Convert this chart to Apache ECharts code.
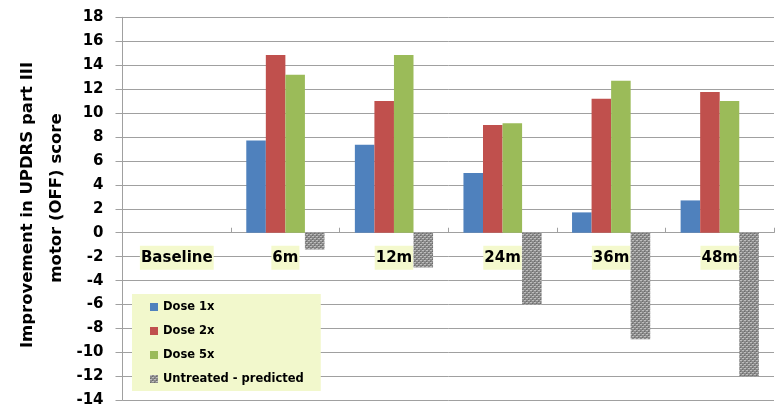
<!DOCTYPE html>
<html>
<head>
<meta charset="utf-8">
<script src="https://cdn.jsdelivr.net/npm/echarts@6/dist/echarts.min.js"></script>
<style>
  html, body { margin: 0; padding: 0; background: #ffffff; }
  #chart { width: 778px; height: 407px; }
</style>
</head>
<body>
<div id="chart"></div>
<script>
// Time points after treatment
const categories = ['Baseline', '6m', '12m', '24m', '36m', '48m'];

// Improvement in UPDRS part III motor (OFF) score per group
const dose1x = [null, 7.7, 7.35, 5.0, 1.7, 2.7];
const dose2x = [null, 14.85, 11.0, 9.0, 11.2, 11.75];
const dose5x = [null, 13.2, 14.85, 9.15, 12.7, 11.0];
const untreatedPredicted = [null, -1.4, -2.9, -6.0, -8.9, -12.0];

const seriesNames = ['Dose 1x', 'Dose 2x', 'Dose 5x', 'Untreated - predicted'];

// Value range of the score axis
const yMin = -14, yMax = 18, yStep = 2;

// Small speckled fill for the predicted (untreated) bars
function speckle() {
  const c = document.createElement('canvas');
  c.width = 4; c.height = 4;
  const ctx = c.getContext('2d');
  ctx.fillStyle = '#8a8a8a';
  ctx.fillRect(0, 0, 4, 4);
  ctx.fillStyle = '#bdbdbd';
  ctx.fillRect(0, 0, 2, 1);
  ctx.fillRect(2, 2, 2, 1);
  ctx.fillStyle = '#6c6c6c';
  ctx.fillRect(2, 1, 1, 1);
  ctx.fillRect(0, 3, 1, 1);
  return c;
}
const speckleFill = { image: speckle(), repeat: 'repeat' };

const boldFont = 'DejaVu Sans';
const el = document.getElementById('chart');
const chart = echarts.init(el, null, { renderer: 'canvas' });

// Plot area
const gridTop = 17.3, gridBottom = 6.7;
const plotHeight = 407 - gridTop - gridBottom;
// Shift the category axis up from the plot bottom to the zero line
const zeroShift = plotHeight * (0 - yMin) / (yMax - yMin);

const bar = (name, data, color) => ({
  name, type: 'bar', data,
  barGap: '0%', barCategoryGap: '28%',
  itemStyle: { color },
  emphasis: { disabled: true }
});

chart.setOption({
  animation: false,
  backgroundColor: '#ffffff',
  grid: { left: 122.5, right: 4, top: gridTop, bottom: gridBottom, containLabel: false, outerBoundsMode: 'none' },
  legend: {
    orient: 'vertical',
    left: 132, top: 294,
    backgroundColor: '#f2f8cc',
    padding: [6, 17, 5, 18],
    itemWidth: 8, itemHeight: 8, itemGap: 10,
    icon: 'rect',
    data: seriesNames,
    textStyle: { fontFamily: boldFont, fontWeight: 'bold', fontSize: 11.5, color: '#000', lineHeight: 14 }
  },
  xAxis: {
    type: 'category',
    data: categories,
    position: 'bottom',
    offset: -zeroShift,
    axisLine: { onZero: false, lineStyle: { color: '#a0a0a0', width: 1 } },
    axisTick: { show: true, inside: true, length: 5, alignWithLabel: false, lineStyle: { color: '#a0a0a0' } },
    axisLabel: {
      margin: 13,
      fontFamily: boldFont, fontWeight: 'bold', fontSize: 15, color: '#000',
      backgroundColor: '#f4f9cd',
      padding: [5, 1, 4, 1]
    },
    splitLine: { show: false }
  },
  yAxis: {
    type: 'value',
    min: yMin, max: yMax, interval: yStep,
    axisLine: { show: true, lineStyle: { color: '#a0a0a0', width: 1 } },
    axisTick: { show: true, length: 7, lineStyle: { color: '#a0a0a0' } },
    axisLabel: { margin: 19, fontFamily: boldFont, fontWeight: 'bold', fontSize: 15, color: '#000' },
    splitLine: { show: true, lineStyle: { color: '#a0a0a0', width: 1 } }
  },
  graphic: [
    {
      type: 'text', x: 28, y: 205, rotation: Math.PI / 2,
      style: {
        text: 'Improvement in UPDRS part III',
        font: 'bold 16.5px "DejaVu Sans"', fill: '#000',
        textAlign: 'center', textVerticalAlign: 'middle'
      }
    },
    {
      type: 'text', x: 57, y: 198, rotation: Math.PI / 2,
      style: {
        text: 'motor (OFF) score',
        font: 'bold 16.5px "DejaVu Sans"', fill: '#000',
        textAlign: 'center', textVerticalAlign: 'middle'
      }
    }
  ],
  series: [
    bar(seriesNames[0], dose1x, '#4f81bd'),
    bar(seriesNames[1], dose2x, '#c0504d'),
    bar(seriesNames[2], dose5x, '#9bbb59'),
    bar(seriesNames[3], untreatedPredicted, speckleFill)
  ]
});
</script>
</body>
</html>
